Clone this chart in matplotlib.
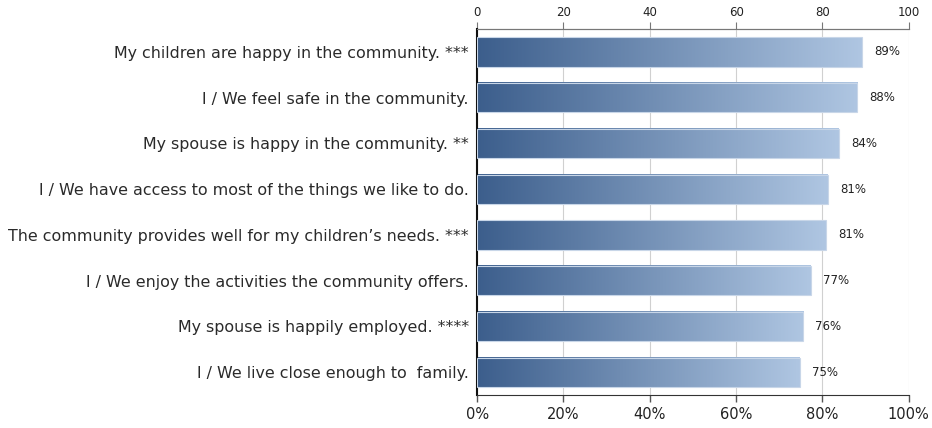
import numpy as np
import matplotlib.pyplot as plt
from matplotlib.colors import LinearSegmentedColormap

labels = [
    "My children are happy in the community. ***",
    "I / We feel safe in the community.",
    "My spouse is happy in the community. **",
    "I / We have access to most of the things we like to do.",
    "The community provides well for my children\u2019s needs. ***",
    "I / We enjoy the activities the community offers.",
    "My spouse is happily employed. ****",
    "I / We live close enough to  family.",
]
values = [89.2, 88.1, 83.8, 81.3, 80.8, 77.3, 75.6, 74.8]
value_labels = ["89%", "88%", "84%", "81%", "81%", "77%", "76%", "75%"]
ticks = [0, 20, 40, 60, 80, 100]

plt.rcParams['font.family'] = ['DejaVu Sans']

fig = plt.figure(figsize=(9.32, 4.28), dpi=100)
ax = fig.add_axes([0.512, 0.077, 0.463, 0.855])

cmap = LinearSegmentedColormap.from_list("bar", ["#3c5e8c", "#afc6e2"])
grad = np.linspace(0, 1, 256).reshape(1, -1)
n = len(labels)
h = 0.64
for i, v in enumerate(values):
    y = n - 1 - i
    ax.imshow(grad, cmap=cmap, aspect='auto', extent=[0, v, y - h / 2, y + h / 2], zorder=2)
    ax.add_patch(plt.Rectangle((0, y - h / 2), v, h, fill=False, edgecolor="#c8d6e8", lw=0.8, zorder=3))
    ax.text(v + 2.8, y, value_labels[i], va='center', ha='left', fontsize=8.5, color='#222222')

ax.set_xlim(0, 100)
ax.set_ylim(-0.5, n - 0.5)
ax.set_yticks(range(n))
ax.set_yticklabels(labels[::-1], fontsize=11.4, color='#2a2a2a')
ax.tick_params(axis='y', length=0, pad=6)
ax.set_xticks(ticks)
ax.set_xticklabels([f"{t}%" for t in ticks], fontsize=10.5, color='#222222')
ax.tick_params(axis='x', length=5, color='#555555', width=1)
ax.grid(axis='x', color='#d0d0d0', lw=0.8, zorder=0)
ax.set_axisbelow(True)
ax.spines['right'].set_visible(False)
ax.spines['left'].set_color('#111111')
ax.spines['left'].set_linewidth(1.5)
ax.spines['top'].set_color('#777777')
ax.spines['bottom'].set_color('#333333')

top = ax.secondary_xaxis('top')
top.set_xticks(ticks)
top.set_xticklabels([str(t) for t in ticks], fontsize=8.5, color='#222222')
top.tick_params(length=5, color='#777777', pad=2)
top.spines['top'].set_color('#777777')

fig.savefig("out.png", dpi=100)
